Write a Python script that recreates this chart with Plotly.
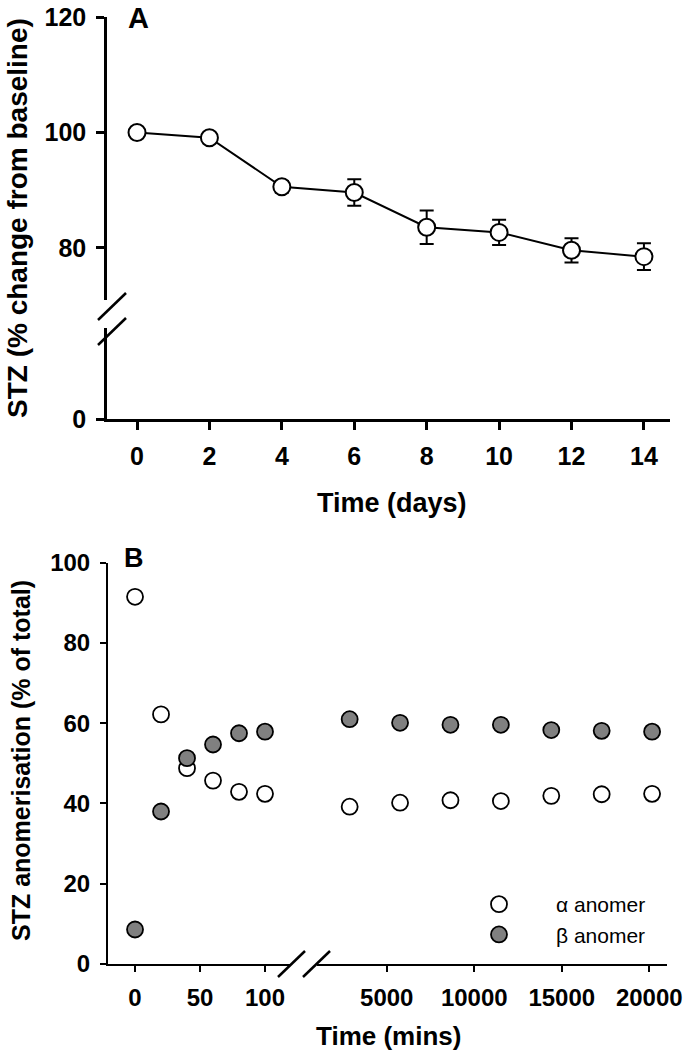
import plotly.graph_objects as go

W, H = 685, 1058
def px(x): return x / W
def py(y): return 1 - y / H

# ---- Panel A data ----
days = [0, 2, 4, 6, 8, 10, 12, 14]
stz_pct = [100.0, 99.1, 90.6, 89.6, 83.6, 82.7, 79.6, 78.5]
stz_err = [0.0, 0.0, 1.0, 2.3, 2.9, 2.2, 2.1, 2.3]
a_ticks = [0, 2, 4, 6, 8, 10, 12, 14]

# ---- Panel B data ----
t_early = [0, 20, 40, 60, 80, 100]
t_late = [2880, 5760, 8640, 11520, 14400, 17280, 20160]
alpha_early = [91.5, 62.2, 48.8, 45.7, 42.9, 42.4]
alpha_late = [39.2, 40.2, 40.8, 40.6, 41.9, 42.3, 42.4]
beta_early = [8.6, 38.0, 51.3, 54.7, 57.5, 57.9]
beta_late = [61.0, 60.1, 59.6, 59.6, 58.3, 58.1, 57.9]
b_ticks_early = [0, 50, 100]
b_ticks_late = [5000, 10000, 15000, 20000]

FONT = "Arial, Liberation Sans, sans-serif"
GRAY = "rgb(128,128,128)"

fig = go.Figure()

fig.add_trace(go.Scatter(
    x=days, y=stz_pct, xaxis="x", yaxis="y", mode="lines+markers",
    line=dict(color="black", width=2),
    marker=dict(size=17, color="white", line=dict(color="black", width=2)),
    error_y=dict(type="data", array=stz_err, color="black", thickness=2, width=7),
    showlegend=False, hoverinfo="x+y",
))
# empty trace so the lower (broken) y-axis segment is rendered
fig.add_trace(go.Scatter(x=[None], y=[None], xaxis="x", yaxis="y2", mode="markers",
                         showlegend=False, hoverinfo="skip"))

mk = dict(size=16, line=dict(color="black", width=1.8))
fig.add_trace(go.Scatter(x=t_early, y=alpha_early, xaxis="x3", yaxis="y3", mode="markers",
                         marker=dict(color="white", **mk), name="α anomer", legendgroup="a"))
fig.add_trace(go.Scatter(x=t_late, y=alpha_late, xaxis="x4", yaxis="y3", mode="markers",
                         marker=dict(color="white", **mk), name="α anomer", legendgroup="a",
                         showlegend=False))
fig.add_trace(go.Scatter(x=t_early, y=beta_early, xaxis="x3", yaxis="y3", mode="markers",
                         marker=dict(color=GRAY, **mk), name="β anomer", legendgroup="b"))
fig.add_trace(go.Scatter(x=t_late, y=beta_late, xaxis="x4", yaxis="y3", mode="markers",
                         marker=dict(color=GRAY, **mk), name="β anomer", legendgroup="b",
                         showlegend=False))

axA = dict(showline=True, linecolor="black", linewidth=2.5, ticks="outside", ticklen=8,
           tickwidth=2.5, tickcolor="black", showgrid=False, zeroline=False,
           automargin=False, tickformat="d", ticklabelstandoff=5,
           tickfont=dict(family=FONT, size=25, color="black", weight="bold"))
axB = dict(showline=True, linecolor="black", linewidth=2, ticks="outside", ticklen=6,
           tickwidth=1.5, tickcolor="black", showgrid=False, zeroline=False,
           automargin=False, tickformat="d", ticklabelstandoff=5,
           tickfont=dict(family=FONT, size=24, color="black", weight="bold"))

fig.update_layout(
    template="none",
    width=W, height=H, margin=dict(l=0, r=0, t=0, b=0, pad=0),
    paper_bgcolor="white", plot_bgcolor="white",
    xaxis=dict(domain=[px(107), px(670)], anchor="y2", range=[-0.829, 14.72],
               tickvals=a_ticks, **axA),
    yaxis=dict(domain=[py(300), py(17)], anchor="x", range=[70.99, 120],
               tickvals=[80, 100, 120], **axA),
    yaxis2=dict(domain=[py(419), py(328)], anchor="x", range=[0, 15.76],
                tickvals=[0], **axA),
    xaxis3=dict(domain=[px(108), px(291)], anchor="y3", range=[-20.8, 120],
                tickvals=b_ticks_early, **axB),
    xaxis4=dict(domain=[px(317), px(667)], anchor="y3", range=[1014, 21012],
                tickvals=b_ticks_late, **axB),
    yaxis3=dict(domain=[py(964), py(562.7)], anchor="x3", range=[0, 100],
                tickvals=[0, 20, 40, 60, 80, 100], **axB),
    legend=dict(x=px(442), y=py(884), xanchor="left", yanchor="top",
                bgcolor="rgba(0,0,0,0)", itemwidth=104, tracegroupgap=0,
                font=dict(family=FONT, size=21, color="black")),
)

anns = [
    dict(text="<b>A</b>", x=px(138), y=py(18), size=29),
    dict(text="<b>B</b>", x=px(134), y=py(557.5), size=27),
    dict(text="<b>Time (days)</b>", x=px(392), y=py(503), size=27),
    dict(text="<b>Time (mins)</b>", x=px(388), y=py(1036), size=26),
]
for a in anns:
    fig.add_annotation(text=a["text"], x=a["x"], y=a["y"], xref="paper", yref="paper",
                       xanchor="center", yanchor="middle", showarrow=False,
                       font=dict(family=FONT, size=a["size"], color="black"))
fig.add_annotation(text="<b>STZ (% change from baseline)</b>", x=px(18), y=py(218),
                   xref="paper", yref="paper", textangle=-90, showarrow=False,
                   xanchor="center", yanchor="middle",
                   font=dict(family=FONT, size=28, color="black"))
fig.add_annotation(text="<b>STZ anomerisation (% of total)</b>", x=px(21), y=py(761),
                   xref="paper", yref="paper", textangle=-90, showarrow=False,
                   xanchor="center", yanchor="middle",
                   font=dict(family=FONT, size=25, color="black"))

# axis break marks
breaks = [((98, 320), (126, 293)), ((98, 345), (126, 318)),
          ((278, 977), (305, 951)), ((303, 977), (330, 951))]
for (x0, y0), (x1, y1) in breaks:
    fig.add_shape(type="line", xref="paper", yref="paper",
                  x0=px(x0), y0=py(y0), x1=px(x1), y1=py(y1),
                  line=dict(color="black", width=2.5))

fig.write_html("out.html", config={"displayModeBar": False},
               post_script="document.body.style.margin='0px';")
